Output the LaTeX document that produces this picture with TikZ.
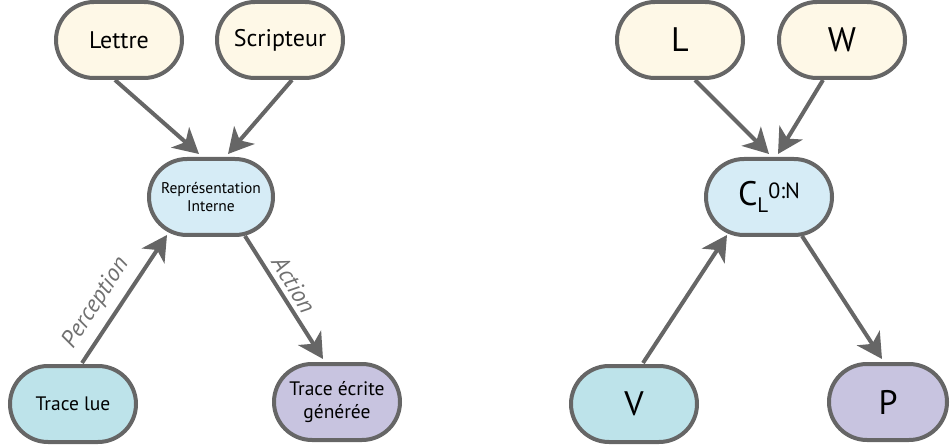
\documentclass[tikz,border=0pt]{standalone}
\usepackage{fontspec}
\setmainfont{PT Sans}
\usetikzlibrary{shapes.misc,arrows.meta}
\definecolor{bordergray}{HTML}{666666}
\definecolor{labelgray}{HTML}{707070}
\definecolor{ycol}{HTML}{FEF8E7}
\definecolor{bcol}{HTML}{D6ECF6}
\definecolor{tcol}{HTML}{BDE3EA}
\definecolor{pcol}{HTML}{C8C4E0}
\tikzset{
  pill/.style={rounded rectangle, draw=bordergray, line width=4pt,
    minimum width=130pt, minimum height=76pt, inner sep=2pt, align=center,
    text=black},
  conn/.style={draw=bordergray, line width=4pt,
    -{Stealth[length=25pt,width=27pt,inset=7pt]}},
  elabel/.style={text=labelgray, font=\fontsize{24}{24}\selectfont\itshape, inner sep=0pt},
}
\begin{document}
\begin{tikzpicture}[x=1pt,y=-1pt]
\useasboundingbox (0,0) rectangle (950,446);
% ---------- left graph ----------
\node[pill, fill=ycol, font=\fontsize{24}{24}\selectfont] (lettre) at (119,40) {Lettre};
\node[pill, fill=ycol, font=\fontsize{24}{24}\selectfont] (scrip) at (280,40) {Scripteur};
\node[pill, fill=bcol, minimum width=128pt, font=\fontsize{15.5}{18}\selectfont] (rep) at (211,197) {Représentation\\Interne};
\node[pill, fill=tcol, font=\fontsize{19.5}{19.5}\selectfont] (tlue) at (73,404) {Trace lue};
\node[pill, fill=pcol, font=\fontsize{19.5}{23}\selectfont] (tgen) at (337,402) {Trace écrite\\générée};
\draw[conn] ([xshift=-4pt]lettre.south) -- ([xshift=-12pt,yshift=3pt]rep.north);
\draw[conn] ([xshift=12pt]scrip.south) -- ([xshift=17pt,yshift=3pt]rep.north);
\draw[conn] ([xshift=9pt,yshift=1pt]tlue.north) -- ([xshift=-44pt,yshift=2pt]rep.south);
\draw[conn] ([xshift=34pt,yshift=1pt]rep.south) -- ([xshift=-14pt,yshift=3pt]tgen.north);
\node[elabel, rotate=57] (perc) at (96,303) {Perception};
\node[elabel, rotate=-59] (act) at (294,285) {Action};
% ---------- right graph ----------
\node[pill, fill=ycol, font=\fontsize{34}{34}\selectfont] (L) at (680,40) {L};
\node[pill, fill=ycol, font=\fontsize{34}{34}\selectfont] (W) at (842,40) {W};
\node[pill, fill=bcol] (C) at (769,197)
  {{\fontsize{34}{34}\selectfont C}\raisebox{-7pt}{\fontsize{21}{21}\selectfont L}\raisebox{7pt}{\fontsize{22}{22}\selectfont 0:N}};
\node[pill, fill=tcol, font=\fontsize{34}{34}\selectfont] (V) at (634,404) {V};
\node[pill, fill=pcol, minimum width=122pt, font=\fontsize{34}{34}\selectfont] (P) at (888,402) {P};
\draw[conn] ([xshift=15pt]L.south) -- ([yshift=3pt]C.north);
\draw[conn] ([xshift=-19pt]W.south) -- ([xshift=9pt,yshift=3pt]C.north);
\draw[conn] ([xshift=9pt,yshift=1pt]V.north) -- ([xshift=-42pt,yshift=2pt]C.south);
\draw[conn] ([xshift=33pt,yshift=1pt]C.south) -- ([xshift=-6pt,yshift=3pt]P.north);
\end{tikzpicture}
\end{document}
